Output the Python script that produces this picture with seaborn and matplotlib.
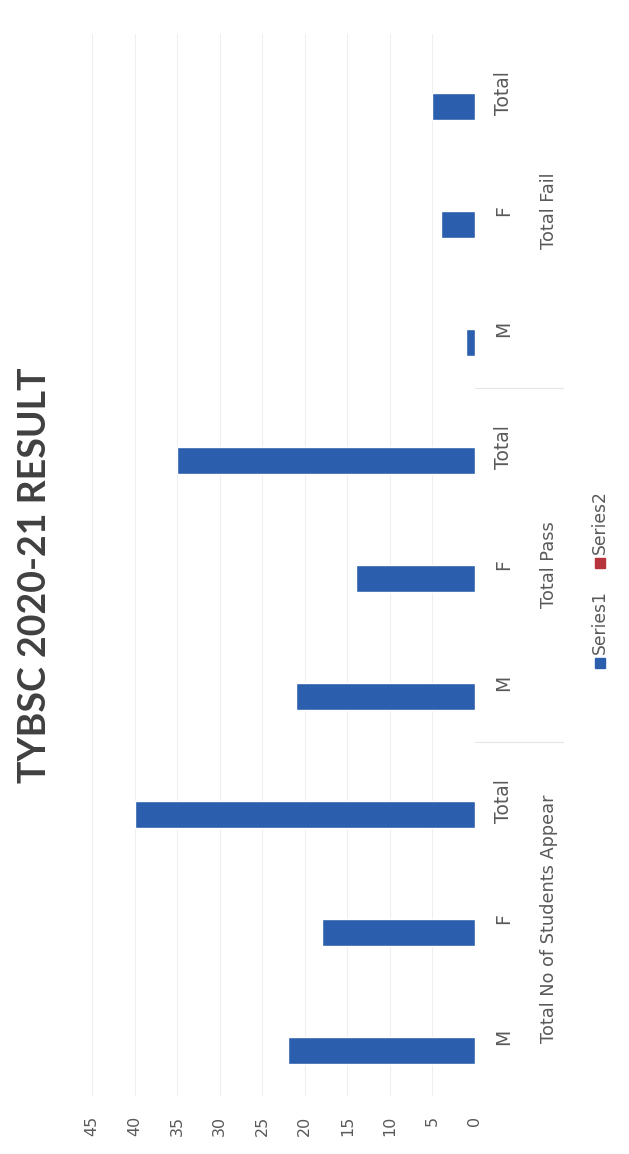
import pandas as pd
import matplotlib
matplotlib.use("Agg")
import matplotlib.pyplot as plt
import seaborn as sns
from matplotlib.lines import Line2D
from matplotlib.transforms import blended_transform_factory

# ==========================================
# DATA
# ==========================================

groups = ["Total No of Students Appear", "Total Pass", "Total Fail"]
sub_labels = ["M", "F", "Total"]
series1 = [22, 18, 40, 21, 14, 35, 1, 4, 5]
series2 = [0, 0, 0, 0, 0, 0, 0, 0, 0]
value_ticks = [0, 5, 10, 15, 20, 25, 30, 35, 40, 45]

cat_ids = [f"{g} {s}" for g in groups for s in sub_labels]

df = pd.DataFrame({
    "cat": cat_ids * 2,
    "value": series1 + series2,
    "series": ["Series1"] * 9 + ["Series2"] * 9,
})

blue = "#2B5EAC"
red = "#B8343C"
grey = "#595959"

# ==========================================
# PLOT
# ==========================================

sns.set_style("white")
plt.rcParams["font.family"] = ["DejaVu Sans"]

fig = plt.figure(figsize=(6.29, 11.54), dpi=100)
ax = fig.add_axes([92 / 629, 58 / 1154, 383 / 629, 1062 / 1154])

sns.barplot(
    data=df,
    y="cat",
    x="value",
    hue="series",
    order=cat_ids,
    hue_order=["Series1", "Series2"],
    palette=[blue, red],
    orient="h",
    width=0.46,
    saturation=1,
    legend=False,
    ax=ax,
)

ax.set_xlim(45, 0)
ax.set_ylim(-0.5, 8.5)
ax.set_xticks(value_ticks)
ax.set_xticklabels([str(v) for v in value_ticks], rotation=90,
                   color=grey, fontsize=11.5)
ax.yaxis.tick_right()
ax.set_yticks(range(9))
ax.set_yticklabels(sub_labels * 3, rotation=90, color=grey,
                   fontsize=13.5, va="center", ha="left")
ax.tick_params(axis="both", length=0)
ax.tick_params(axis="y", pad=14)
ax.tick_params(axis="x", pad=14)
ax.set_xlabel("")
ax.set_ylabel("")

ax.xaxis.grid(True, color="#efefef", lw=0.8)
ax.set_axisbelow(True)
for s in ax.spines.values():
    s.set_visible(False)

# group labels
trans = blended_transform_factory(ax.transAxes, ax.transData)
for i, g in enumerate(groups):
    ax.text(1 + 74 / 383, 3 * i + 1, g, transform=trans,
            rotation=90, ha="center", va="center",
            color=grey, fontsize=12.8, clip_on=False)

# group separators
for b in [2.5, 5.5]:
    ax.plot([1.0, 1 + 88 / 383], [b, b], transform=trans,
            color="#e6e6e6", lw=0.8, clip_on=False)

# title
fig.text(35 / 629, 1 - 575 / 1154, "TYBSC 2020-21 RESULT",
         rotation=90, ha="center", va="center", family="Lato",
         fontsize=27, fontweight="bold", color="#404040")

# legend
for name, col, ysq in [("Series1", blue, 663), ("Series2", red, 563)]:
    fig.add_artist(Line2D([600 / 629], [1 - ysq / 1154], marker="s",
                          markersize=7.5, color=col, linestyle="none",
                          transform=fig.transFigure))
    fig.text(600 / 629, 1 - (ysq - 9) / 1154, name, rotation=90,
             ha="center", va="bottom", color=grey, fontsize=12.3)

plt.savefig("out.png", dpi=100)
